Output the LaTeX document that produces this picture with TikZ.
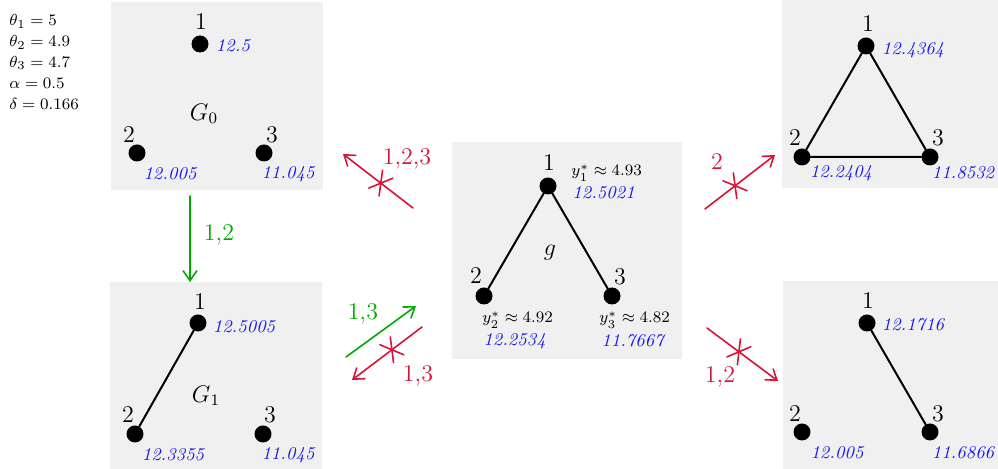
\documentclass[tikz,border=0pt]{standalone}
\usetikzlibrary{arrows.meta,decorations.markings}
\definecolor{valblue}{RGB}{25,25,235}
\definecolor{okgreen}{RGB}{0,170,0}
\definecolor{nored}{RGB}{215,20,55}
\definecolor{boxgray}{RGB}{240,240,240}
\begin{document}
\begin{tikzpicture}[x=0.5pt, y=-0.5pt, line join = round, line cap = round, >={Straight Barb[length=5pt,width=7pt]}, font=\large]
	\tikzset{dot/.style={circle, fill=black, inner sep=0pt, minimum size=8.5pt},
		val/.style={font=\small\itshape, text=valblue, inner sep=0pt},
		ystar/.style={font=\footnotesize, inner sep=0pt, anchor=west},
		edge/.style={line width=1pt},
		move/.style={->, line width=0.8pt},
		blocked/.style={move, nored, postaction={decorate}, decoration={markings,
			mark=at position #1 with {\draw[-, line width=0.8pt] (-60:6.5pt)--(120:6.5pt) (60:6.5pt)--(240:6.5pt);}}}
	}
	\useasboundingbox (0,0) rectangle (998,469);
	% grey panels
	\fill[boxgray] (111,2) rectangle (323,190);
	\fill[boxgray] (110,282) rectangle (322,469);
	\fill[boxgray] (452,142) rectangle (682,359);
	\fill[boxgray] (782,0) rectangle (998,188);
	\fill[boxgray] (783,281) rectangle (998,469);
	% parameters
	\foreach \t [count=\i] in {\theta_1=5, \theta_2=4.9, \theta_3=4.7, \alpha=0.5, \delta=0.166}
		\node[font=\footnotesize, anchor=base west, inner sep=0pt] (par\i) at (9, {26+20.8*(\i-1)}) {$\t$};
	% G_0
	\foreach \i/\p/\q/\lx/\ly/\v/\vx/\vy in {1/200/44/201/22/12.5/233/46, 2/137/153/129/135/12.005/170/174, 3/264/153/272/135/11.045/288/174}
	{
		\node[dot] (a\i) at (\p,\q) {};
		\node (la\i) at (\lx,\ly) {\i};
		\node[val] (va\i) at (\vx,\vy) {\v};
	}
	\node (G0) at (204,114) {$G_0$};
	% G_1
	\foreach \i/\p/\q/\lx/\ly/\v/\vx/\vy in {1/198/323/200/302/12.5005/244/327, 2/135/434/128/415/12.3355/173/455, 3/263/434/270/415/11.045/288/455}
	{
		\node[dot] (b\i) at (\p,\q) {};
		\node (lb\i) at (\lx,\ly) {\i};
		\node[val] (vb\i) at (\vx,\vy) {\v};
	}
	\node (G1) at (206,396) {$G_1$};
	\draw[edge] (b1)--(b2);
	% g
	\foreach \i/\p/\q/\lx/\ly in {1/548/186/549/163, 2/484/296/476/276, 3/612/296/620/277}
	{
		\node[dot] (c\i) at (\p,\q) {};
		\node (lc\i) at (\lx,\ly) {\i};
	}
	\node (g) at (550,253) {$g$};
	\node[ystar] (y1) at (571,173) {$y_1^*\approx4.93$};
	\node[val, anchor=west] (vc1) at (572,193) {12.5021};
	\node[ystar] (y2) at (482,320) {$y_2^*\approx4.92$};
	\node[val, anchor=west] (vc2) at (483,341) {12.2534};
	\node[ystar] (y3) at (599,320) {$y_3^*\approx4.82$};
	\node[val, anchor=west] (vc3) at (601,341) {11.7667};
	\draw[edge] (c2)--(c1)--(c3);
	% top right
	\foreach \i/\p/\q/\lx/\ly/\v/\vx/\vy in {1/866/46/868/24/12.4364/913/50, 2/802/157/795/138/12.2404/841/173, 3/930/157/938/138/11.8532/963/173}
	{
		\node[dot] (d\i) at (\p,\q) {};
		\node (ld\i) at (\lx,\ly) {\i};
		\node[val] (vd\i) at (\vx,\vy) {\v};
	}
	\draw[edge] (d1)--(d2)--(d3)--(d1);
	% bottom right
	\foreach \i/\p/\q/\lx/\ly/\v/\vx/\vy in {1/867/323/868/301/12.1716/913/325, 2/802/432/795/414/12.005/837/453, 3/930/432/938/414/11.6866/963/453}
	{
		\node[dot] (e\i) at (\p,\q) {};
		\node (le\i) at (\lx,\ly) {\i};
		\node[val] (ve\i) at (\vx,\vy) {\v};
	}
	\draw[edge] (e1)--(e3);
	% moves between graphs
	\path (190,196) coordinate (m1s) (190,282) coordinate (m1e)
	(413,208) coordinate (m2s) (343,154) coordinate (m2e)
	(346,357) coordinate (m3s) (416,306) coordinate (m3e)
	(422,327) coordinate (m4s) (352,380) coordinate (m4e)
	(705,209) coordinate (m5s) (775,155) coordinate (m5e)
	(707,328) coordinate (m6s) (778,381) coordinate (m6e);
	\draw[move, okgreen] (m1s) -- (m1e);
	\node[okgreen] (t1) at (219,235) {1,2};
	\draw[blocked=0.46] (m2s) -- (m2e);
	\node[nored] (t2) at (407,159) {1,2,3};
	\draw[move, okgreen] (m3s) -- (m3e);
	\node[okgreen] (t3) at (363,314) {1,3};
	\draw[blocked=0.43] (m4s) -- (m4e);
	\node[nored] (t4) at (418,376) {1,3};
	\draw[blocked=0.43] (m5s) -- (m5e);
	\node[nored] (t5) at (717,162) {2};
	\draw[blocked=0.45] (m6s) -- (m6e);
	\node[nored] (t6) at (720,377) {1,2};
\end{tikzpicture}
\end{document}
